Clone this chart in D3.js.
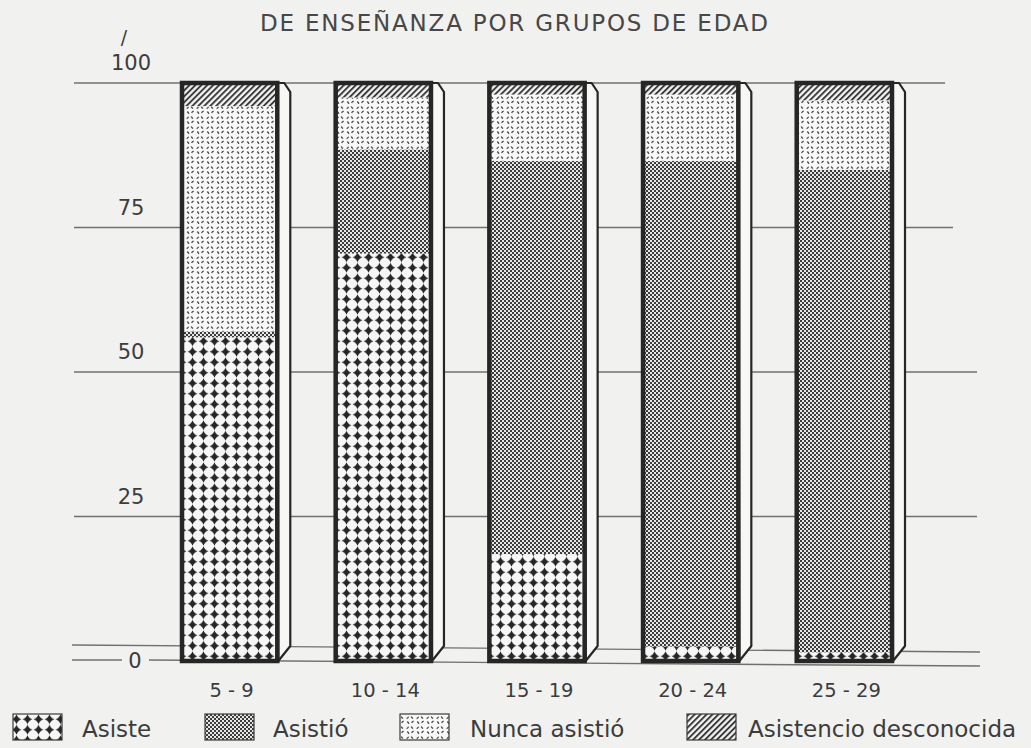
<!DOCTYPE html>
<html><head><meta charset="utf-8">
<script src="https://cdn.jsdelivr.net/npm/d3@7"></script>
<style>body{margin:0;background:#f1f1ef;} svg{display:block}</style>
</head><body>
<svg id="chart" width="1031" height="748"></svg>
<script>
// ---- data ----
const title = "DE ENSEÑANZA POR GRUPOS DE EDAD";
const categories = ["5 - 9", "10 - 14", "15 - 19", "20 - 24", "25 - 29"];
const seriesNames = ["Asiste", "Asistió", "Nunca asistió", "Asistencio desconocida"];
const asiste       = [56, 70.5, 18.5, 2.5, 1.5];
const asistio      = [1, 18, 68, 84, 83.5];
const nuncaAsistio = [39, 9, 11.5, 11.5, 12];
const desconocida  = [4, 2.5, 2, 2, 3];
const yTicks = [0, 25, 50, 75, 100];

// ---- layout ----
const W = 1031, H = 748;
const ink = "#262626", textCol = "#3c3c3c", lineCol = "#707070";
const svg = d3.select("#chart");
svg.append("rect").attr("width", W).attr("height", H).attr("fill", "#f1f1ef");

const keys = ["asiste", "asistio", "nunca", "desc"];
const rows = categories.map((c, i) => ({cat: c, asiste: asiste[i], asistio: asistio[i], nunca: nuncaAsistio[i], desc: desconocida[i]}));
const stacked = d3.stack().keys(keys)(rows);

const x = d3.scaleBand().domain(categories).range([182, 892]).paddingInner(0.38).paddingOuter(0);
const y = d3.scaleLinear().domain([0, 100]).range([661, 83]);
const bw = x.bandwidth();

// ---- patterns ----
const defs = svg.append("defs");
// Asiste: black 4-point stars on white
{
  const p = defs.append("pattern").attr("id", "pat-asiste").attr("patternUnits", "userSpaceOnUse")
    .attr("width", 11).attr("height", 10.5).attr("x", 0).attr("y", 0);
  p.append("rect").attr("width", 11).attr("height", 10.5).attr("fill", "#f6f6f6");
  const cx = 5.5, cy = 5.25, a = 5.0, k = 1.2;
  p.append("path").attr("fill", ink).attr("d",
    `M${cx},${cy - a} Q${cx + k},${cy - k} ${cx + a},${cy} Q${cx + k},${cy + k} ${cx},${cy + a} Q${cx - k},${cy + k} ${cx - a},${cy} Q${cx - k},${cy - k} ${cx},${cy - a}Z`);
  p.append("circle").attr("cx", cx).attr("cy", cy).attr("r", 1.9).attr("fill", ink);
}
// Asistió: fine checker
{
  const p = defs.append("pattern").attr("id", "pat-asistio").attr("patternUnits", "userSpaceOnUse")
    .attr("width", 4).attr("height", 4);
  p.append("rect").attr("width", 4).attr("height", 4).attr("fill", "#e6e6e6");
  p.append("rect").attr("width", 2).attr("height", 2).attr("fill", "#3c3c3c");
  p.append("rect").attr("x", 2).attr("y", 2).attr("width", 2).attr("height", 2).attr("fill", "#3c3c3c");
}
// Nunca asistió: light circles with diagonal arcs
{
  const p = defs.append("pattern").attr("id", "pat-nunca").attr("patternUnits", "userSpaceOnUse")
    .attr("width", 10).attr("height", 10);
  p.append("rect").attr("width", 10).attr("height", 10).attr("fill", "#f8f8f8");
  p.append("circle").attr("cx", 5).attr("cy", 5).attr("r", 4).attr("fill", "none")
    .attr("stroke", "#4a4a4a").attr("stroke-width", 1.3)
    .attr("stroke-dasharray", "2.6 3.68").attr("stroke-dashoffset", 4.44);
}
// Desconocida: diagonal hatching
{
  const p = defs.append("pattern").attr("id", "pat-desc").attr("patternUnits", "userSpaceOnUse")
    .attr("width", 4.2).attr("height", 4.2).attr("patternTransform", "rotate(45)");
  p.append("rect").attr("width", 4.2).attr("height", 4.2).attr("fill", "#f4f4f4");
  p.append("line").attr("x1", 1).attr("y1", 0).attr("x2", 1).attr("y2", 4.2)
    .attr("stroke", "#2e2e2e").attr("stroke-width", 1.8);
}
const patFor = {asiste: "url(#pat-asiste)", asistio: "url(#pat-asistio)", nunca: "url(#pat-nunca)", desc: "url(#pat-desc)"};

// ---- title ----
svg.append("text").attr("x", 514).attr("y", 31).attr("text-anchor", "middle")
  .attr("font-family", "DejaVu Sans").attr("font-size", 23).attr("fill", "#474747")
  .attr("textLength", 508).attr("lengthAdjust", "spacing").text(title);

// ---- gridlines ----
const g = svg.append("g");
const gridEnd = {25: 977, 50: 977, 75: 953, 100: 945};
yTicks.filter(t => t > 0).forEach(t => {
  g.append("line").attr("x1", 74).attr("x2", gridEnd[t]).attr("y1", y(t)).attr("y2", y(t))
    .attr("stroke", lineCol).attr("stroke-width", 1.3);
});
// floor lines (back and front)
g.append("line").attr("x1", 72).attr("x2", 980).attr("y1", y(0) - 16).attr("y2", y(0) - 9)
  .attr("stroke", lineCol).attr("stroke-width", 1.4);
g.append("line").attr("x1", 72).attr("x2", 122).attr("y1", y(0) - 1).attr("y2", y(0) - 1)
  .attr("stroke", lineCol).attr("stroke-width", 1.4);
g.append("line").attr("x1", 149).attr("x2", 980).attr("y1", y(0) - 1).attr("y2", y(0) + 5)
  .attr("stroke", lineCol).attr("stroke-width", 1.4);

// y labels
yTicks.forEach(t => {
  svg.append("text").attr("x", t === 0 ? 135 : 131).attr("y", t === 0 ? y(0) : y(t) - 20)
    .attr("text-anchor", "middle").attr("dominant-baseline", "central")
    .attr("font-family", "DejaVu Sans").attr("font-size", 21).attr("fill", textCol).text(t);
});
svg.append("text").attr("x", 124).attr("y", 44).attr("text-anchor", "middle")
  .attr("font-family", "DejaVu Sans").attr("font-size", 19).attr("fill", textCol).text("/");

// ---- bars ----
const bars = svg.append("g");
// side faces
categories.forEach(c => {
  const R = x(c) + bw, t = y(100), b = y(0);
  bars.append("polygon")
    .attr("points", [[R, t], [R + 7, t], [R + 13, t + 9], [R + 13, b - 15], [R + 1, b]].map(p => p.join(",")).join(" "))
    .attr("fill", "#f7f7f5").attr("stroke", ink).attr("stroke-width", 2.2).attr("stroke-linejoin", "round");
});
stacked.forEach(layer => {
  bars.selectAll(null).data(layer).enter().append("rect")
    .attr("x", d => x(d.data.cat)).attr("width", bw)
    .attr("y", d => y(d[1])).attr("height", d => y(d[0]) - y(d[1]))
    .attr("fill", patFor[layer.key]);
});
bars.selectAll(null).data(categories).enter().append("rect")
  .attr("x", d => x(d)).attr("width", bw).attr("y", y(100)).attr("height", y(0) - y(100))
  .attr("fill", "none").attr("stroke", ink).attr("stroke-width", 4.5);

// x labels
svg.selectAll(null).data(categories).enter().append("text")
  .attr("x", d => x(d) + bw / 2 + 2).attr("y", 690).attr("text-anchor", "middle").attr("dominant-baseline", "central")
  .attr("font-family", "DejaVu Sans").attr("font-size", 19.5).attr("fill", textCol).text(d => d);

// ---- legend ----
const legendSwatchX = [13, 205, 400, 687];
const legendTextX = [82, 273, 470, 748];
const leg = svg.append("g");
keys.forEach((k, i) => {
  leg.append("rect").attr("x", legendSwatchX[i]).attr("y", 714).attr("width", 49).attr("height", 26)
    .attr("fill", patFor[k]).attr("stroke", "#3a3a3a").attr("stroke-width", 1.2);
  leg.append("text").attr("x", legendTextX[i]).attr("y", 729).attr("dominant-baseline", "central")
    .attr("font-family", "DejaVu Sans").attr("font-size", 23).attr("fill", textCol).text(seriesNames[i]);
});
</script>
</body></html>
